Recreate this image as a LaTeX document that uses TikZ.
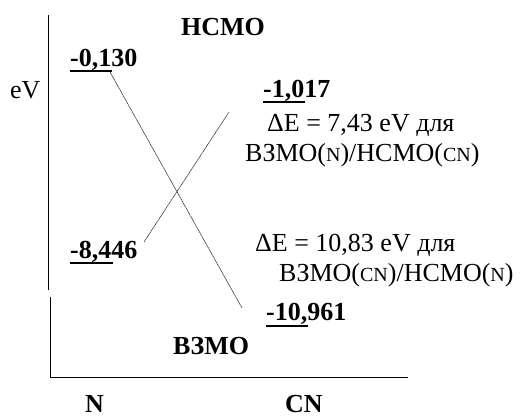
\documentclass[tikz,border=0pt]{standalone}
\usepackage{fontspec}
\setmainfont{Liberation Serif}
\newcommand{\molsc}[1]{{\fontsize{20}{20}\selectfont #1}}
\begin{document}
\begin{tikzpicture}[x=1pt,y=-1pt,
  txt/.style={inner sep=0pt,anchor=base west,font=\fontsize{26}{28}\selectfont},
  num/.style={inner sep=0pt,anchor=base west,font=\fontsize{26}{28}\selectfont\bfseries},
  level/.style={line width=2.6pt},
  link/.style={line width=0.6pt,black!80,dash pattern=on 2pt off 0.5pt},
  axis/.style={line width=1pt}]
\useasboundingbox (0,0) rectangle (525,419);
% axes
\draw[axis] (48,15) -- (48,290);
\draw[axis] (50,297) -- (50,378) -- (408,378);
\node[txt] (ev) at (10,99) {eV};
\node[num] (lumo) at (181,36) {НСМО};
\node[num] (homo) at (173,355) {ВЗМО};
\node[num] (n) at (85,413) {N};
\node[num] (cn) at (285,413) {CN};
% levels
\node[num] (nl) at (70,67) {-0,130};
\node[num] (nh) at (70,259) {-8,446};
\node[num] (cl) at (263,98) {-1,017};
\node[num] (ch) at (266,321) {-10,961};
\coordinate (nla) at (70,71); \coordinate (nlb) at (112,71);
\coordinate (nha) at (70,263); \coordinate (nhb) at (113,263);
\coordinate (cla) at (263,102); \coordinate (clb) at (305,102);
\coordinate (cha) at (266,326); \coordinate (chb) at (308,326);
\draw[level] (nla) -- (nlb); \draw[level] (nha) -- (nhb);
\draw[level] (cla) -- (clb); \draw[level] (cha) -- (chb);
\coordinate (a1) at (110,72); \coordinate (a2) at (242,308);
\coordinate (b1) at (144,242); \coordinate (b2) at (229,112);
\draw[link] (a1) -- (a2); \draw[link] (b1) -- (b2);
% gaps
\node[txt] (g1) at (267,132) {ΔE = 7,43 eV для};
\node[txt] (g1b) at (245,162) {ВЗМО(\molsc{N})/НСМО(\molsc{CN})};
\node[txt] (g2) at (255,252) {ΔE = 10,83 eV для};
\node[txt] (g2b) at (279,282) {ВЗМО(\molsc{CN})/НСМО(\molsc{N})};
\end{tikzpicture}
\end{document}
